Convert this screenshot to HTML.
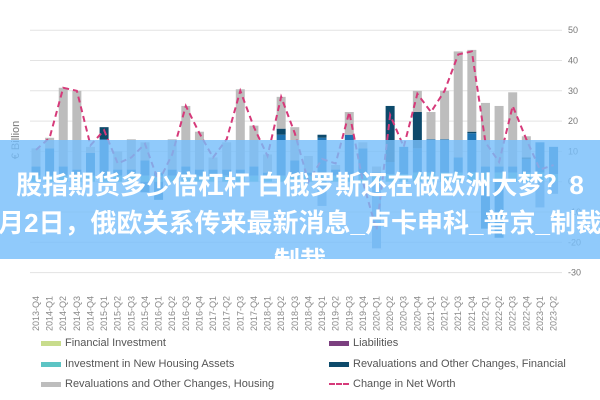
<!DOCTYPE html>
<html><head><meta charset="utf-8"><style>
body{margin:0;width:600px;height:400px;overflow:hidden;background:#fff;font-family:"Liberation Sans","Noto Sans CJK SC",sans-serif;position:relative}
#band{position:absolute;left:0;top:140px;width:600px;height:119px;background:rgba(120,190,250,0.82)}
.bt{position:absolute;left:-20px;width:640px;text-align:center;color:#fff;font-weight:bold;font-size:26px;white-space:nowrap;font-family:"Liberation Sans","Noto Sans CJK SC",sans-serif}
.leg{position:absolute;font-size:11px;color:#555;display:flex;align-items:center}
.sw{width:20px;height:5px;margin-right:4px}
</style></head><body>
<svg id="chart" width="600" height="400" style="position:absolute;left:0;top:0"></svg>
<div id="band"></div>
<div class="bt" style="top:165px">股指期货多少倍杠杆 白俄罗斯还在做欧洲大梦？8</div>
<div class="bt" style="top:203px">月2日，俄欧关系传来最新消息_卢卡申科_普京_制裁</div>
<div class="bt" style="top:241px;height:18px;overflow:hidden">制裁</div>
<div class="leg" style="left:41px;top:337px"><div class="sw" style="background:#c8dc8c"></div>Financial Investment</div>
<div class="leg" style="left:41px;top:358px"><div class="sw" style="background:#5cc4c4"></div>Investment in New Housing Assets</div>
<div class="leg" style="left:41px;top:378px"><div class="sw" style="background:#bdbdbd"></div>Revaluations and Other Changes, Housing</div>
<div class="leg" style="left:329px;top:337px"><div class="sw" style="background:#7b3f7f"></div>Liabilities</div>
<div class="leg" style="left:329px;top:358px"><div class="sw" style="background:#0d4a6b"></div>Revaluations and Other Changes, Financial</div>
<div class="leg" style="left:329px;top:378px"><div class="sw" style="background:none;border-top:2px dashed #d63a7a;height:0"></div>Change in Net Worth</div>
<script>
const quarters=["2013-Q4","2014-Q1","2014-Q2","2014-Q3","2014-Q4","2015-Q1","2015-Q2","2015-Q3","2015-Q4","2016-Q1","2016-Q2","2016-Q3","2016-Q4","2017-Q1","2017-Q2","2017-Q3","2017-Q4","2018-Q1","2018-Q2","2018-Q3","2018-Q4","2019-Q1","2019-Q2","2019-Q3","2019-Q4","2020-Q1","2020-Q2","2020-Q3","2020-Q4","2021-Q1","2021-Q2","2021-Q3","2021-Q4","2022-Q1","2022-Q2","2022-Q3","2022-Q4","2023-Q1","2023-Q2"];
const teal=[2,2,2,2,2,2,2,2,2,2,2,2,2,2,2,2,2,2,2,2,2,2,2,2,2,2,2.5,2.5,3,3,3,3,3,3,3,3,3,3,2.5];
const finInv=[3,9,3,2,7.5,12,2,2,5,1,2,3,2,2,2,2,3,1,13.5,5,1,12.5,2,13.5,9,1,4,9,8,11,11,5,13,2,2,2,4.5,10,9];
const finReval=[0,0,0,0,0,4,0,0,0,0,0,0,0,0,0,0,0,0,2,0,0,1,0,0,0,0,18.5,0,12,0,0,0,0.5,0,0,0,0.5,0,0];
const housing=[6,3.5,26,26,2,0,6,10,6,0,10,20,12.5,4,9,26.5,13.5,6,10.5,11,5.5,0,1.5,7.5,2,2,0,0,7,9,16,35,27,21,20,24.5,7,0,0];
const negDark=[0,0,0,0,0,0,0,0,-3.5,-6,0,0,0,0,0,0,0,0,0,0,0,0,0,0,0,0,0,0,0,0,0,0,0,-15.5,-18.5,0,0,0,0];
const liab=[0,0,0,0,0,0,0,0,0,0,0,0,0,0,0,0,0,0,0,0,0,-8,0,0,0,-22,0,0,0,0,0,0,0,0,0,0,0,-8.5,-4];
const netWorth=[10.5,14.5,31,30,12,17,6,8,12.5,0,9,25,16,8,14,30,18,8.5,28,16,0,7.5,6,23,0,-16,22,11.5,29,23,30,42,43,13,6.5,25,14,4,5.5];
const yTicks=[50,40,30,20,10,0,-10,-20,-30];
const NS="http://www.w3.org/2000/svg";
const svg=document.getElementById('chart');
const y=v=>181.7-v*3.03;
const x=i=>36+i*13.62;
const bw=9;
function mk(t,a){const e=document.createElementNS(NS,t);for(const k in a)e.setAttribute(k,a[k]);svg.appendChild(e);return e;}
yTicks.forEach(t=>{
 const g=mk('line',{x1:30,x2:562,y1:y(t),y2:y(t),stroke:'#e3e3e3','stroke-width':1});
 
 
 const l=mk('text',{x:568,y:y(t)+3,'font-size':9,fill:'#777'});l.textContent=t;
 
 
});
const yt=mk('text',{x:19,y:140,'font-size':11,fill:'#777',transform:'rotate(-90 19 140)','text-anchor':'middle'});yt.textContent='€ Billion';


const stackSeries=[[teal,'#5cc4c4','bar-new-housing'],[finInv,'#1f74b3','bar-financial-investment'],[finReval,'#0d4a6b','bar-financial-revaluations'],[housing,'#bdbdbd','bar-housing-revaluations']];
quarters.forEach((q,i)=>{
 let base=0;
 stackSeries.forEach(([arr,c,n])=>{
  const v=arr[i];if(v<=0)return;
  const r=mk('rect',{x:x(i)-bw/2,y:y(base+v),width:bw,height:v*3.03,fill:c});
  
  
  base+=v;
 });
 let nb=0;
 [[negDark,'#1f74b3','bar-negative-financial'],[liab,'#7ea9d4','bar-liabilities']].forEach(([arr,c,n])=>{
  const v=arr[i];if(v>=0)return;
  const r=mk('rect',{x:x(i)-bw/2,y:y(nb),width:bw,height:-v*3.03,fill:c});
  
  
  nb+=v;
 });
 const t=mk('text',{x:0,y:0,'font-size':9,fill:'#888','text-anchor':'end',transform:`translate(${x(i)+3},296) rotate(-90)`});t.textContent=q;
 
 
});
const p=mk('polyline',{points:netWorth.map((v,i)=>x(i)+','+y(v)).join(' '),fill:'none',stroke:'#d63a7a','stroke-width':2,'stroke-dasharray':'6,4'});


</script>
</body></html>
